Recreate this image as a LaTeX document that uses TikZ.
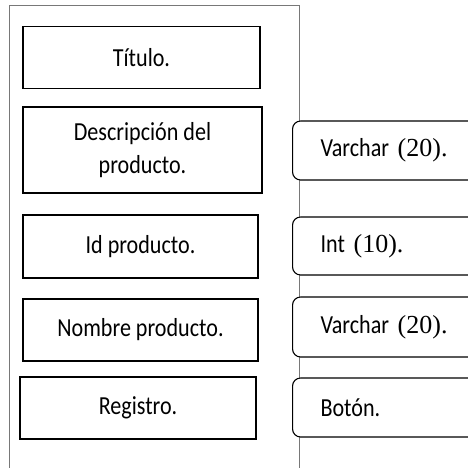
\documentclass[tikz,border=0pt]{standalone}
\usepackage{fontspec}
\setmainfont{Carlito}[FakeStretch=0.85]
\newfontfamily\numfont{Liberation Serif}
\definecolor{framegray}{RGB}{120,120,120}
\usetikzlibrary{positioning}

\begin{document}
\begin{tikzpicture}[x=1pt, y=-1pt,
    campo/.style={draw, line width=1.2pt, fill=white, inner sep=0pt, align=center,
      minimum width=236pt, minimum height=62pt, font=\fontsize{26}{33}\selectfont},
    tipo/.style={draw, line width=1.1pt, fill=white, rounded corners=8pt, anchor=west,
      text width=150pt, inner xsep=28pt, inner ysep=0pt, align=left,
      minimum height=59pt, font=\fontsize{26}{33}\selectfont}]
  \useasboundingbox (0,0) rectangle (468,468);
  \clip (0,0) rectangle (468,468);

  % marco de la pantalla
  \draw[framegray, line width=0.9pt] (9,470) |- (299,5) -- (299,470);

  % campos del formulario
  \node[campo, minimum width=237pt] (titulo) at (141.5,57.5) {Título.};
  \node[campo, minimum width=239pt, minimum height=86pt] (descripcion) at (142.5,150) {Descripción del\\producto.};
  \node[campo, minimum width=235pt, minimum height=63pt] (idprod) at (140.5,246.5) {Id producto.};
  \node[campo, minimum width=235pt] (nombre) at (140.5,330) {Nombre producto.};
  \node[campo] (registro) at (138,408) {Registro.};

  % tipos de dato
  \node[tipo] (tipodesc) at (292,150.5) {Varchar {\numfont(20).}};
  \node[tipo, minimum height=58pt] (tipoid) at (292,246) {Int {\numfont(10).}};
  \node[tipo, minimum height=60pt] (tiponombre) at (292,327) {Varchar {\numfont(20).}};
  \node[tipo] (tiporeg) at (292,407.5) {Botón.};
\end{tikzpicture}
\end{document}
